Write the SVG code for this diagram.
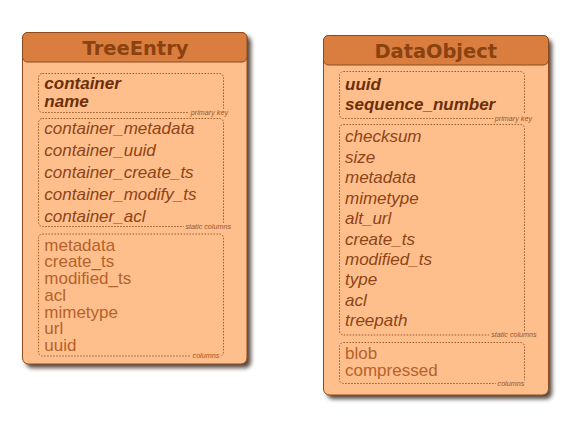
<svg xmlns="http://www.w3.org/2000/svg" width="571" height="432" viewBox="0 0 571 432">
<defs>
<filter id="sh" x="-10%" y="-10%" width="130%" height="130%">
<feGaussianBlur stdDeviation="2"/>
</filter>
<style>
.shadow{fill:#3a2a20;opacity:0.85;filter:url(#sh)}
.body{fill:#ffbf8c;stroke:#8a4a1c;stroke-width:1}
.head{fill:#d97e3e;stroke:#8a4a1c;stroke-width:1}
.title{font-family:"DejaVu Sans",sans-serif;font-weight:bold;font-size:19.5px;fill:#8a4210;text-anchor:middle}
.grp{fill:none;stroke:#a0602c;stroke-width:1;stroke-dasharray:1.6 1.4}
.pk{font-family:"Liberation Sans",Arial,sans-serif;font-weight:bold;font-style:italic;font-size:17px;fill:#6b2f0a}
.st{font-family:"Liberation Sans",Arial,sans-serif;font-style:italic;font-size:17px;fill:#8c4418}
.col{font-family:"Liberation Sans",Arial,sans-serif;font-size:17px;fill:#b4622c}
.lbl{font-family:"Liberation Sans",Arial,sans-serif;font-style:italic;font-size:7.2px;fill:#9a5426;text-anchor:end;stroke:#ffbf8c;stroke-width:4;paint-order:stroke}
</style>
</defs>
<rect width="571" height="432" fill="#ffffff"/>

<g id="TreeEntry">
<rect class="shadow" x="26" y="36" width="225" height="332" rx="6"/>
<rect class="body" x="22.5" y="32.5" width="224.5" height="331.5" rx="6"/>
<rect class="head" x="22.5" y="32.5" width="224.5" height="29.5" rx="5"/>
<text class="title" x="135.5" y="54.5" textLength="106" lengthAdjust="spacingAndGlyphs">TreeEntry</text>
<rect class="grp" x="38.5" y="73.5" width="185" height="39" rx="4"/>
<text class="pk" x="44.3" y="89">container</text>
<text class="pk" x="44.3" y="106.7">name</text>
<text class="lbl" x="228" y="114.5">primary key</text>
<rect class="grp" x="38.5" y="118.5" width="185" height="108" rx="4"/>
<text class="st" x="44.3" y="133.5">container_metadata</text>
<text class="st" x="44.3" y="155.5">container_uuid</text>
<text class="st" x="44.3" y="178">container_create_ts</text>
<text class="st" x="44.3" y="200">container_modify_ts</text>
<text class="st" x="44.3" y="221.7">container_acl</text>
<text class="lbl" x="231" y="228.5">static columns</text>
<rect class="grp" x="38.5" y="234" width="185" height="122" rx="4"/>
<text class="col" x="44.3" y="250.7">metadata</text>
<text class="col" x="44.3" y="267.4">create_ts</text>
<text class="col" x="44.3" y="284.1">modified_ts</text>
<text class="col" x="44.3" y="300.8">acl</text>
<text class="col" x="44.3" y="317.5">mimetype</text>
<text class="col" x="44.3" y="334.2">url</text>
<text class="col" x="44.3" y="350.9">uuid</text>
<text class="lbl" x="219.3" y="358">columns</text>
</g>

<g id="DataObject">
<rect class="shadow" x="327" y="39" width="225" height="360" rx="6"/>
<rect class="body" x="323.5" y="35.5" width="225" height="359.5" rx="6"/>
<rect class="head" x="323.5" y="35.5" width="225" height="29.5" rx="5"/>
<text class="title" x="435.7" y="57.5" textLength="122.5" lengthAdjust="spacingAndGlyphs">DataObject</text>
<rect class="grp" x="339.5" y="71.5" width="185" height="47" rx="4"/>
<text class="pk" x="345" y="90">uuid</text>
<text class="pk" x="345" y="110">sequence_number</text>
<text class="lbl" x="532" y="120.5">primary key</text>
<rect class="grp" x="339.5" y="124.5" width="185" height="210.5" rx="4"/>
<text class="st" x="345" y="142.3">checksum</text>
<text class="st" x="345" y="162.7">size</text>
<text class="st" x="345" y="183.1">metadata</text>
<text class="st" x="345" y="203.5">mimetype</text>
<text class="st" x="345" y="223.9">alt_url</text>
<text class="st" x="345" y="244.5">create_ts</text>
<text class="st" x="345" y="264.9">modified_ts</text>
<text class="st" x="345" y="285.3">type</text>
<text class="st" x="345" y="305.7">acl</text>
<text class="st" x="345" y="326.1">treepath</text>
<text class="lbl" x="536.7" y="337">static columns</text>
<rect class="grp" x="339.5" y="342.5" width="185" height="41" rx="4"/>
<text class="col" x="345" y="359">blob</text>
<text class="col" x="345" y="376">compressed</text>
<text class="lbl" x="524.3" y="386">columns</text>
</g>

<g id="connectors"></g>
</svg>
